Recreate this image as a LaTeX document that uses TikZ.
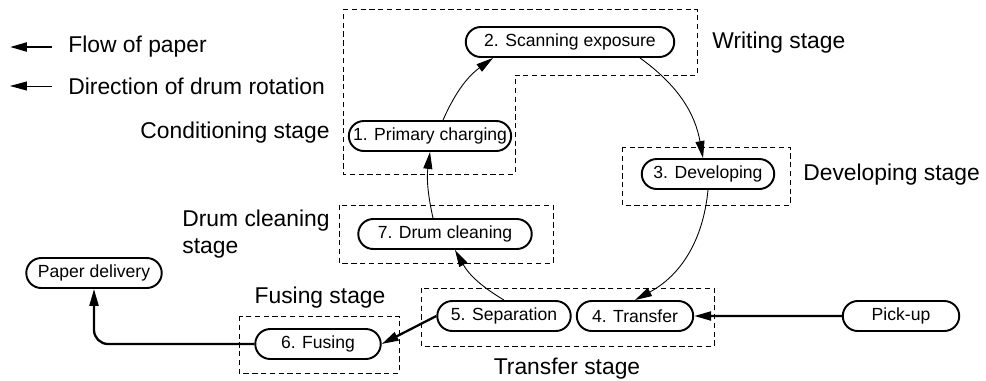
\documentclass[tikz,border=0pt]{standalone}
\usepackage{fontspec}
\setmainfont{Liberation Sans}
\usetikzlibrary{shapes.misc,arrows.meta,positioning}

\begin{document}
\begin{tikzpicture}[
  x=0.02cm, y=-0.02cm,
  stagebox/.style={draw, rounded rectangle, line width=1.1pt, minimum height=0.6cm, inner sep=1pt, font=\fontsize{10}{12}\selectfont},
  flow/.style={-{Triangle[length=0.34cm, width=0.18cm]}, line width=1.3pt},
  rot/.style={-{Triangle[length=0.34cm, width=0.18cm]}, line width=0.5pt},
  zone/.style={draw, dash pattern=on 3pt off 2pt, line width=0.5pt},
  lbl/.style={font=\fontsize{13}{15}\selectfont, inner sep=0pt},
]
\useasboundingbox (0,0) rectangle (986,380);

% Stage zones
\draw[zone] (343,9) -- (697,9) -- (697,75) -- (515,75) -- (515,174) -- (343,174) -- cycle;
\draw[zone] (622,147) rectangle (790,205);
\draw[zone] (339,205) rectangle (553,263);
\draw[zone] (421,288) rectangle (714,346);
\draw[zone] (239,316) rectangle (399,373);

% Nodes
\node[stagebox, minimum width=4.24cm] (scan) at (570,42) {2. Scanning exposure};
\node[stagebox, minimum width=3.22cm] (charge) at (430,136) {1. Primary charging};
\node[stagebox, minimum width=2.72cm] (dev) at (708,174) {3. Developing};
\node[stagebox, minimum width=3.54cm] (clean) at (445,234) {7. Drum cleaning};
\node[stagebox, minimum width=2.74cm] (sep) at (504,316) {5. Separation};
\node[stagebox, minimum width=2.40cm] (trans) at (635,316) {4. Transfer};
\node[stagebox, minimum width=2.40cm] (pick) at (901,316) {Pick-up};
\node[stagebox, minimum width=2.58cm] (fuse) at (318,344) {6. Fusing};
\node[stagebox, minimum width=2.78cm] (deliv) at (94,273) {Paper delivery};

% Labels
\node[lbl, anchor=west] (lwrite) at (712,43) {Writing stage};
\node[lbl, anchor=east] (lcond) at (330,133) {Conditioning stage};
\node[lbl, anchor=west] (ldev) at (803,175) {Developing stage};
\node[lbl, anchor=east, align=left] (lclean) at (330,234) {Drum cleaning\\stage};
\node[lbl] (lfuse) at (320,298) {Fusing stage};
\node[lbl] (ltrans) at (567,369) {Transfer stage};

% Legend
\coordinate (kflowa) at (52,47);
\coordinate (kflowb) at (10,47);
\coordinate (krota) at (52,86);
\coordinate (krotb) at (10,86);
\draw[flow] (kflowa) -- (kflowb);
\draw[rot] (krota) -- (krotb);
\node[lbl, anchor=west] (kflow) at (68,47) {Flow of paper};
\node[lbl, anchor=west] (krot) at (68,86) {Direction of drum rotation};

% Drum rotation
\draw[rot] ([xshift=0.26cm]charge.north) to[bend left=15] ([xshift=-1.54cm]scan.south);
\draw[rot] ([xshift=1.4cm]scan.south) to[bend left=22] ([xshift=-0.1cm]dev.north);
\draw[rot] (dev.south) to[bend left=28] (trans.north);
\draw[rot] (sep.north) to[bend left=15] ([xshift=0.2cm]clean.south);
\draw[rot] ([xshift=-0.24cm]clean.north) to[bend left=10] (charge.south);

% Flow of paper
\draw[flow] (pick) -- (trans);
\draw[flow] (sep.west) -- (fuse.east);
\draw[flow, rounded corners=8pt] (fuse.west) -| (deliv.south);
\end{tikzpicture}
\end{document}
